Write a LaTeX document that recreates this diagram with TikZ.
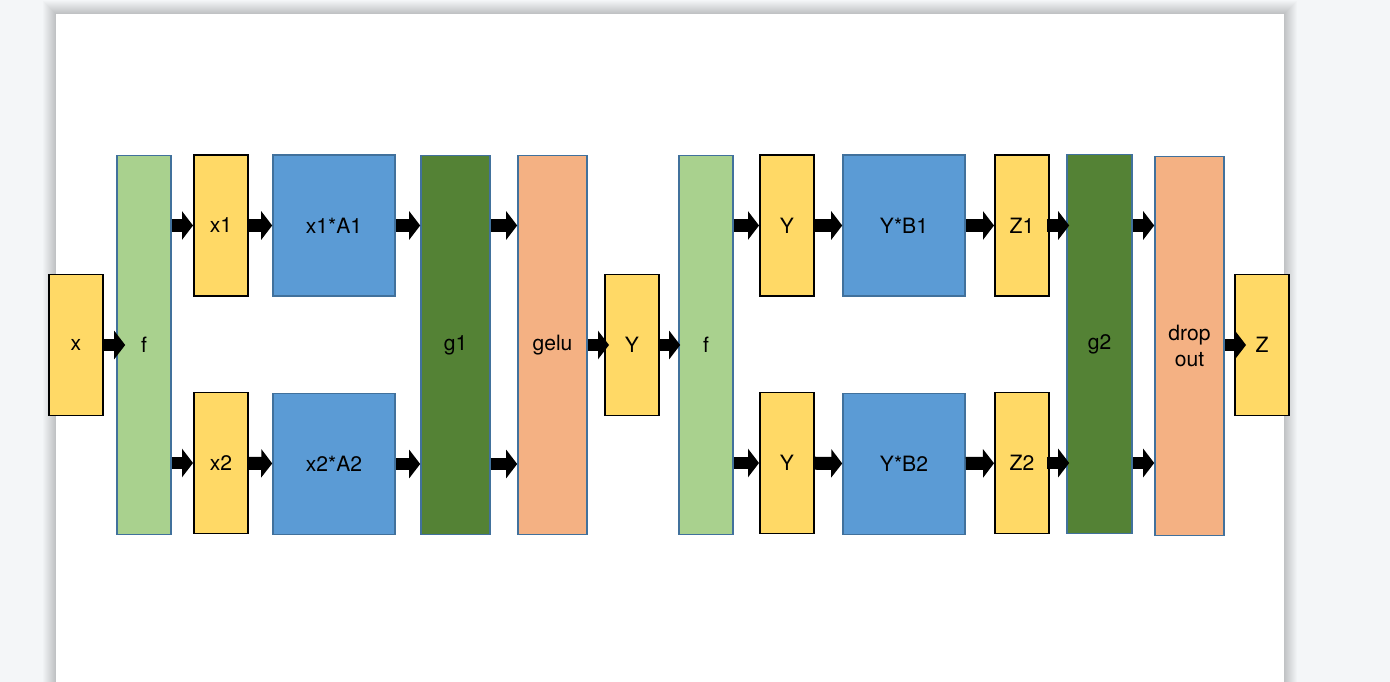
\documentclass[tikz,border=0pt]{standalone}
\usepackage{fontspec}
\setmainfont{TeX Gyre Heros}
\usetikzlibrary{arrows.meta}
\definecolor{pagegray}{HTML}{F4F6F8}
\definecolor{boxyellow}{HTML}{FFD966}
\definecolor{boxgreen}{HTML}{A9D18E}
\definecolor{boxblue}{HTML}{5B9BD5}
\definecolor{boxdark}{HTML}{548235}
\definecolor{boxorange}{HTML}{F4B183}
\definecolor{boxline}{HTML}{41719C}
\tikzset{
  every node/.style={font=\fontsize{12}{15}\selectfont, align=center, inner sep=0pt},
  tensor/.style={draw=black, line width=1.1pt, fill=boxyellow, minimum width=1.08cm, minimum height=2.82cm},
  op/.style={draw=boxline, line width=0.9pt, minimum height=7.58cm},
  split/.style={op, fill=boxgreen, minimum width=1.08cm},
  gather/.style={op, fill=boxdark, minimum width=1.38cm},
  act/.style={op, fill=boxorange, minimum width=1.38cm},
  matmul/.style={draw=boxline, line width=0.9pt, fill=boxblue, minimum width=2.44cm, minimum height=2.82cm},
  blk/.style={line width=0.26cm, -{Triangle[length=0.22cm,width=0.56cm]}},
}
\begin{document}
\begin{tikzpicture}[x=0.02cm, y=-0.02cm]
  % page with a soft shadow
  \useasboundingbox (0,0) rectangle (1390,682);
  \fill[pagegray] (0,0) rectangle (1390,682);
  \foreach \d in {1,...,13} {\fill[black, opacity=0.017] (56-\d,14-\d) rectangle (1284+\d,740);}
  \fill[white] (56,14) rectangle (1284,740);
  % first half: x -> Y
  \node[tensor] (x) at (76,345) {x};
  \node[split] (f1) at (144,345) {f};
  \node[tensor] (x1) at (221,225.5) {x1};
  \node[tensor] (x2) at (221,463) {x2};
  \node[matmul] (xa1) at (334,225.5) {x1*A1};
  \node[matmul] (xa2) at (334,464) {x2*A2};
  \node[gather] (g1) at (455.5,345) {g1};
  \node[act] (gelu) at (552.5,345) {gelu};
  \node[tensor] (y) at (632,345) {Y};
  % second half: Y -> Z
  \node[split] (f2) at (706,345) {f};
  \node[tensor] (y1) at (787,225.5) {Y};
  \node[tensor] (y2) at (787,463) {Y};
  \node[matmul] (yb1) at (904,225.5) {Y*B1};
  \node[matmul] (yb2) at (904,464) {Y*B2};
  \node[tensor] (z1) at (1022,225.5) {Z1};
  \node[tensor] (z2) at (1022,463) {Z2};
  \node[gather, minimum width=1.30cm] (g2) at (1099.5,344) {g2};
  \node[act] (drop) at (1189.5,346) {drop\\out};
  \node[tensor] (z) at (1262,345) {Z};
  % arrows
  \draw[blk, shorten >=-0.18cm] (x) -- (f1.west |- x);
  \foreach \r/\m in {x1/xa1, x2/xa2} {
    \draw[blk] (f1.east |- \r) -- (\r);
    \draw[blk] (\r) -- (\m);
    \draw[blk] (\m) -- (g1.west |- \m);
    \draw[blk] (g1.east |- \m) -- (gelu.west |- \m);
  }
  \draw[blk, shorten >=-0.1cm] (gelu.east |- y) -- (y);
  \draw[blk, shorten >=-0.04cm] (y) -- (f2.west |- y);
  \foreach \r/\m/\o in {y1/yb1/z1, y2/yb2/z2} {
    \draw[blk] (f2.east |- \r) -- (\r);
    \draw[blk] (\r) -- (\m);
    \draw[blk] (\m) -- (\o);
    \draw[blk, shorten <=-0.06cm, shorten >=-0.06cm] (\o) -- (g2.west |- \o);
    \draw[blk] (g2.east |- \o) -- (drop.west |- \o);
  }
  \draw[blk, shorten >=-0.24cm] (drop.east |- z) -- (z);
\end{tikzpicture}
\end{document}
